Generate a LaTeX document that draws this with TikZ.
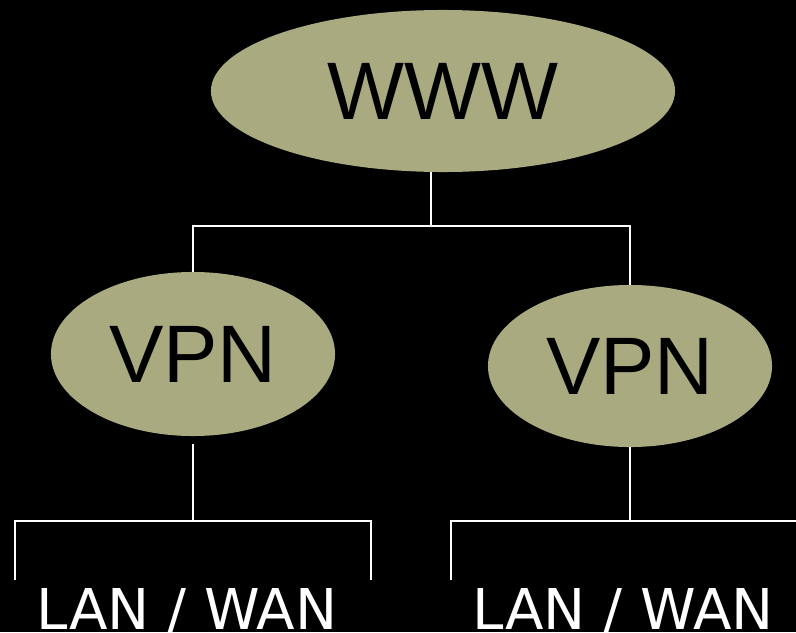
\documentclass[tikz,border=0pt]{standalone}
\usepackage{fontspec}
\setmainfont{Liberation Sans}
\newfontfamily\lanfont{DejaVu Sans}
\usetikzlibrary{shapes.geometric}
\definecolor{olive}{RGB}{170,170,128}
\begin{document}
\begin{tikzpicture}[x=0.025cm, y=-0.025cm,
  net/.style={shape=ellipse, fill=olive, inner sep=0pt, font=\fontsize{58}{60}\selectfont},
  wire/.style={-, draw=white, line width=2pt},
  lan/.style={anchor=base, text=white, font=\lanfont\fontsize{40}{44}\selectfont}]
\fill[black] (0,0) rectangle (796,632);
\useasboundingbox (0,0) rectangle (796,632);
\node[net, minimum width=11.6cm, minimum height=4.05cm] (www) at (443, 91) {WWW};
\node[net, minimum width=7.1cm, minimum height=4.1cm] (vpn1) at (193, 354) {VPN};
\node[net, minimum width=7.1cm, minimum height=4.05cm] (vpn2) at (630, 366) {VPN};
\coordinate (top) at (431, 226);
\coordinate (bus1) at (193, 521);
\coordinate (bus1a) at (15, 580);
\coordinate (bus1b) at (371, 580);
\coordinate (bus2) at (630, 521);
\coordinate (bus2a) at (451, 580);
\coordinate (bus2b) at (796, 521);
\draw[wire] (www.south -| top) -- (top);
\draw[wire] (vpn1.north) |- (top) -| (vpn2.north);
\draw[wire, shorten <=0.2cm] (vpn1) -- (bus1);
\draw[wire] (bus1a) |- (bus1) -| (bus1b);
\draw[wire] (vpn2) -- (bus2);
\draw[wire] (bus2a) |- (bus2) -- (bus2b);
\node[lan] (lan1) at (187, 629) {LAN / WAN};
\node[lan] (lan2) at (623, 629) {LAN / WAN};
\end{tikzpicture}
\end{document}
